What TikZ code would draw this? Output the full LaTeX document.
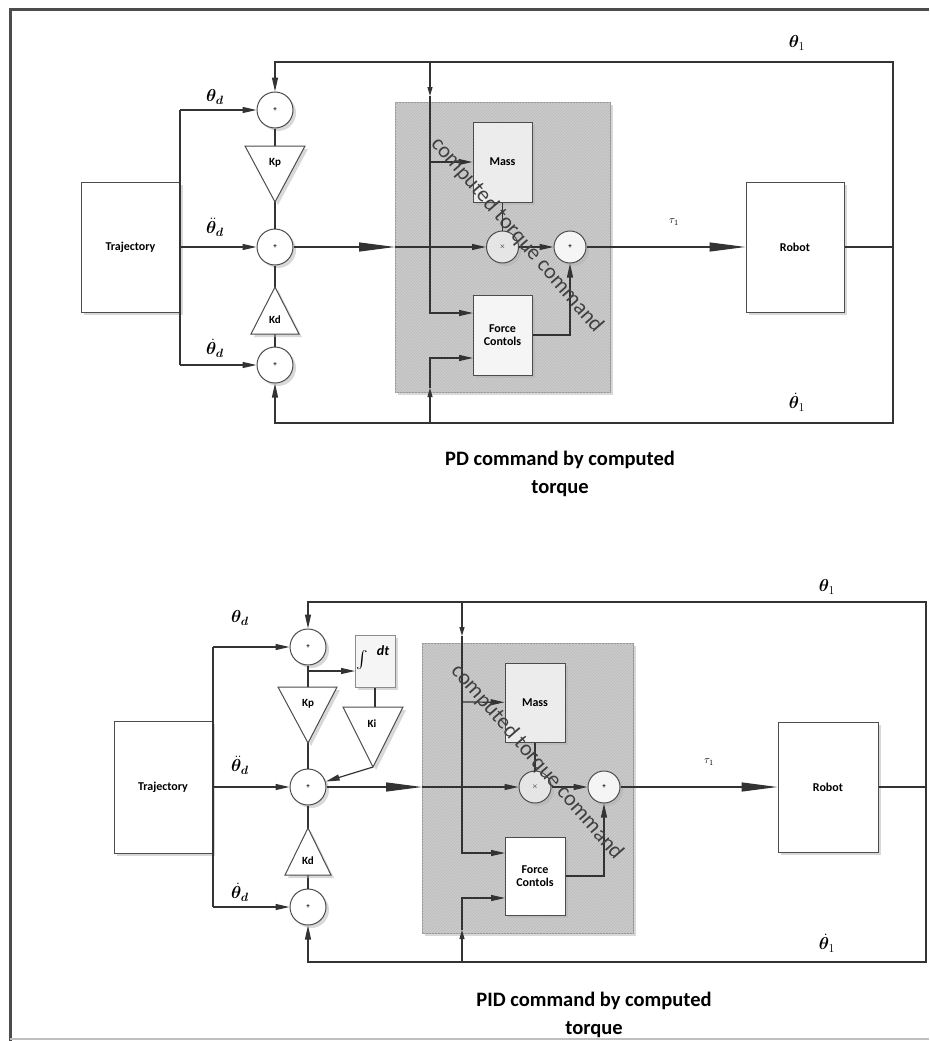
\documentclass[tikz,border=0pt]{standalone}
\usepackage{fontspec}
\setmainfont{Carlito}
\usepackage{amsmath,bm}
\usetikzlibrary{arrows.meta,positioning,shadows,patterns}

\begin{document}
\begin{tikzpicture}[x=1pt,y=-1pt,line width=1.2pt,draw=black!80,
    shadowed/.style={drop shadow={shadow xshift=3pt,shadow yshift=-3pt,fill=black!30}},
    blk/.style={draw=black!70,fill=white,line width=1pt,inner sep=0pt,align=center,
                font=\fontsize{12}{13}\selectfont\bfseries,shadowed},
    grp/.style={draw=black!40,line width=1pt,fill=gray!40,
                postaction={pattern=north east lines,pattern color=gray!55},shadowed},
    sum/.style={circle,draw=black!70,fill=white,line width=1pt,inner sep=0pt,
                minimum size=36pt,font=\fontsize{7}{7}\selectfont\bfseries,shadowed},
    smallsum/.style={sum,minimum size=32pt},
    gain/.style={draw=black!70,fill=white,line width=1pt,shadowed},
    glbl/.style={inner sep=0pt,font=\fontsize{11}{11}\selectfont\bfseries},
    ang/.style={inner sep=0pt,font=\fontsize{17}{17}\selectfont},
    rot/.style={inner sep=0pt,rotate=-49,text=black!75,font=\fontsize{22}{22}\selectfont},
    captxt/.style={inner sep=0pt,align=center,font=\fontsize{20.5}{28}\selectfont\bfseries},
    sig/.style={-{Triangle[length=14pt,width=6pt]}},
    tick/.style={-{Triangle[length=9pt,width=5pt]}},
    bigsig/.style={-{Triangle[length=36pt,width=9pt]}}]

  \useasboundingbox (0,0) rectangle (929,1041);
  \draw[black!70,line width=3pt] (10,1041) -- (10,10) -- (929,10);
  \draw[black!25,line width=1.5pt] (10,1039) -- (929,1039);

  % PD loop
  \node[grp,minimum width=215pt,minimum height=290pt] (gbA) at (502.5,247) {};
  \node[blk,minimum width=99pt,minimum height=130pt] (trajA) at (130.5,247) {Trajectory};
  \node[blk,minimum width=98pt,minimum height=130pt] (robotA) at (795,247) {Robot};
  \node[blk,fill=gray!15,minimum width=59pt,minimum height=80pt] (massA) at (502.5,162) {Mass};
  \node[blk,fill=gray!8,minimum width=59pt,minimum height=80pt] (forceA) at (502.5,335) {Force\\Contols};
  \node[smallsum,fill=gray!20] (mulA) at (502.5,247) {$\times$};
  \node[smallsum,fill=gray!8] (addA) at (570,247) {+};
  \node[sum] (s1A) at (275,110) {+};
  \node[sum] (s2A) at (275,247) {+};
  \node[sum] (s3A) at (275,365) {+};
  \coordinate (jA1) at (180,110);
  \coordinate (jA3) at (180,365);
  \coordinate (inA) at (395,247);
  \coordinate (rA) at (893,247);
  \coordinate (tA) at (275,62);
  \coordinate (bA) at (275,423);
  \coordinate (vA1) at (430,62);
  \coordinate (vA2) at (430,423);
  \coordinate (kA1) at (430,96);
  \coordinate (kA2) at (430,388);
  \coordinate (mA) at (430,162);
  \coordinate (fA1) at (473,313);
  \coordinate (fA2) at (473,358);

  \draw (jA1) -- (jA3);
  \draw[sig] (jA1) -- (s1A);
  \draw[sig] (trajA) -- (s2A);
  \draw[sig] (jA3) -- (s3A);
  \draw (s1A) -- (s2A) -- (s3A);
  \draw[bigsig] (s2A) -- (inA);
  \draw[sig] (inA) -- (mulA);
  \draw (massA) -- (mulA);
  \draw[sig] (mulA) -- (addA);
  \draw[sig] (forceA.east) -| (addA);
  \draw[bigsig] (addA) -- (robotA);
  \draw (robotA) -- (rA);
  \draw[sig] (rA) |- (tA) -- (s1A);
  \draw[sig] (rA) |- (bA) -- (s3A);
  \draw[tick] (vA1) -- (kA1);
  \draw[sig] (kA1) |- (fA1);
  \draw[sig] (mA) -- (massA);
  \draw[tick] (vA2) -- (kA2);
  \draw[sig] (kA2) |- (fA2);

  \draw[gain] (245,146) -- (305,146) -- (275,202) -- cycle;
  \node[glbl] (kpA) at (275,163) {Kp};
  \draw[gain] (275,287) -- (299,334) -- (251,334) -- cycle;
  \node[glbl] (kdA) at (275,320) {Kd};

  \node[ang] (thdA) at (215,97) {$\bm{\theta}_{\bm d}$};
  \node[ang] (thddA) at (215,227) {$\ddot{\bm{\theta}}_{\bm d}$};
  \node[ang] (thdotA) at (215,348) {$\dot{\bm{\theta}}_{\bm d}$};
  \node[ang] (thA) at (797,43) {$\bm{\theta}_1$};
  \node[ang] (thvA) at (797,402) {$\dot{\bm{\theta}}_1$};
  \node[ang,font=\fontsize{11}{11}\selectfont] (tauA) at (674,222) {$\tau_1$};
  \node[rot] (ctA) at (517,235) {computed torque command};
  \node[captxt] (capA) at (560,474) {PD command by computed\\torque};

  % PID loop
  \node[grp,minimum width=211pt,minimum height=290pt] (gbB) at (527.5,788) {};
  \node[blk,minimum width=98pt,minimum height=132pt] (trajB) at (163,787) {Trajectory};
  \node[blk,minimum width=100pt,minimum height=130pt] (robotB) at (828,787) {Robot};
  \node[blk,fill=gray!15,minimum width=60pt,minimum height=79pt] (massB) at (535,702.5) {Mass};
  \node[blk,fill=white,minimum width=60pt,minimum height=78pt] (forceB) at (535,876) {Force\\Contols};
  \node[blk,fill=gray!8,draw=black!45,minimum width=40pt,minimum height=52pt] (dtB) at (375,661) {};
  \node[smallsum,fill=gray!20] (mulB) at (535,787) {$\times$};
  \node[smallsum,fill=gray!8] (addB) at (604,787) {+};
  \node[sum] (s1B) at (308,647) {+};
  \node[sum] (s2B) at (308,787) {+};
  \node[sum] (s3B) at (308,907) {+};
  \coordinate (jB1) at (213,647);
  \coordinate (jB3) at (213,907);
  \coordinate (inB) at (422,787);
  \coordinate (rB) at (926,787);
  \coordinate (tB) at (308,602);
  \coordinate (bB) at (308,962);
  \coordinate (vB1) at (462,602);
  \coordinate (vB2) at (462,962);
  \coordinate (kB1) at (462,636);
  \coordinate (kB2) at (462,930);
  \coordinate (mB) at (462,702);
  \coordinate (fB1) at (505,853);
  \coordinate (fB2) at (505,898);
  \coordinate (iB) at (308,671);
  \coordinate (dtin) at (355,671);
  \coordinate (kiin) at (375,707);
  \coordinate (kiout) at (373,767);

  \draw (jB1) -- (jB3);
  \draw[sig] (jB1) -- (s1B);
  \draw[sig] (trajB) -- (s2B);
  \draw[sig] (jB3) -- (s3B);
  \draw (s1B) -- (s2B) -- (s3B);
  \draw[sig] (iB) -- (dtin);
  \draw (dtB) -- (kiin);
  \draw[sig] (kiout) -- (s2B);
  \draw[bigsig] (s2B) -- (inB);
  \draw[sig] (inB) -- (mulB);
  \draw (massB) -- (mulB);
  \draw[sig] (mulB) -- (addB);
  \draw[sig] (forceB.east) -| (addB);
  \draw[bigsig] (addB) -- (robotB);
  \draw (robotB) -- (rB);
  \draw[sig] (rB) |- (tB) -- (s1B);
  \draw[sig] (rB) |- (bB) -- (s3B);
  \draw[tick] (vB1) -- (kB1);
  \draw[sig] (kB1) |- (fB1);
  \draw[sig] (mB) -- (massB);
  \draw[tick] (vB2) -- (kB2);
  \draw[sig] (kB2) |- (fB2);

  \draw[gain] (278,687) -- (337,687) -- (308,743) -- cycle;
  \node[glbl] (kpB) at (308,704) {Kp};
  \draw[gain] (343,707) -- (403,707) -- (373,767) -- cycle;
  \node[glbl] (kiB) at (372,724) {Ki};
  \draw[gain] (308,828) -- (331,875) -- (285,875) -- cycle;
  \node[glbl] (kdB) at (308,861) {Kd};
  \node[inner sep=0pt,font=\fontsize{16}{16}\selectfont] (intB) at (362,660) {$\int$};
  \node[inner sep=0pt,font=\fontsize{14}{14}\selectfont\bfseries\itshape] (dtt) at (383,651) {dt};

  \node[ang] (thdB) at (240,618) {$\bm{\theta}_{\bm d}$};
  \node[ang] (thddB) at (240,765) {$\ddot{\bm{\theta}}_{\bm d}$};
  \node[ang] (thdotB) at (240,892) {$\dot{\bm{\theta}}_{\bm d}$};
  \node[ang] (thB) at (827,587) {$\bm{\theta}_1$};
  \node[ang] (thvB) at (827,943) {$\dot{\bm{\theta}}_1$};
  \node[ang,font=\fontsize{11}{11}\selectfont] (tauB) at (709,762) {$\tau_1$};
  \node[rot] (ctB) at (537,762) {computed torque command};
  \node[captxt] (capB) at (594,1015) {PID command by computed\\torque};
\end{tikzpicture}
\end{document}
